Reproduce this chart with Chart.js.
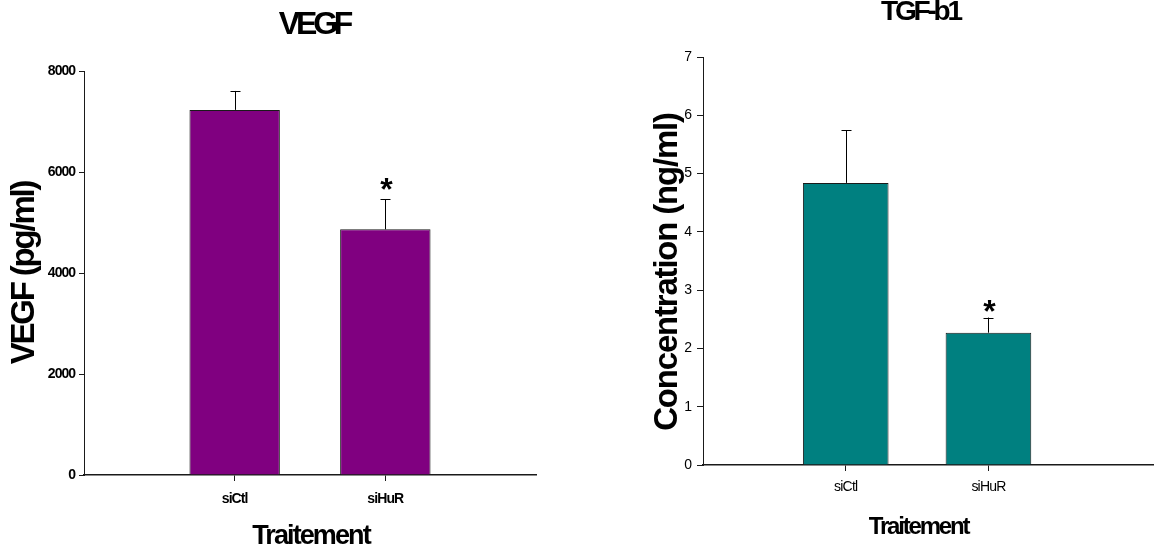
<!DOCTYPE html>
<html>
<head>
<meta charset="utf-8">
<script src="https://cdn.jsdelivr.net/npm/chart.js@4/dist/chart.umd.min.js"></script>
<style>
  html, body { margin: 0; padding: 0; background: #fff; }
  body { width: 1154px; height: 552px; position: relative; overflow: hidden; }
  canvas { position: absolute; top: 0; }
  #vegf { left: 0; }
  #tgf { left: 600px; }
</style>
</head>
<body>
<canvas id="vegf" width="600" height="552"></canvas>
<canvas id="tgf" width="554" height="552"></canvas>
<script>
// Treatment groups and their positions on the x axis
const categories = ['siCtl', 'siHuR'];
const categoryPositions = [1, 2];

// VEGF secretion (pg/ml): mean and upper error
const vegfMeans = [7230, 4865];
const vegfErrors = [375, 600];
const vegfTicks = [0, 2000, 4000, 6000, 8000];

// TGF-b1 concentration (ng/ml): mean and upper error
const tgfMeans = [4.84, 2.27];
const tgfErrors = [0.90, 0.26];
const tgfTicks = [0, 1, 2, 3, 4, 5, 6, 7];

// Groups marked as significantly different
const significant = [false, true];

const FONT = "'Liberation Sans', Arial, Helvetica, sans-serif";
const INK = '#1a1a1a';

// Upward error bars plus significance stars above them
const errorBarPlugin = {
  id: 'errorBars',
  afterDatasetsDraw(chart, args, opts) {
    const ctx = chart.ctx;
    const meta = chart.getDatasetMeta(0);
    const yScale = chart.scales.y;
    ctx.save();
    ctx.strokeStyle = '#000';
    ctx.lineWidth = 1;
    meta.data.forEach((bar, i) => {
      const x = Math.round(bar.x) + 0.5;
      const top = yScale.getPixelForValue(opts.means[i] + opts.errors[i]);
      ctx.beginPath();
      ctx.moveTo(x, bar.y);
      ctx.lineTo(x, top);
      ctx.moveTo(x - opts.cap, Math.round(top) + 0.5);
      ctx.lineTo(x + opts.cap, Math.round(top) + 0.5);
      ctx.stroke();
      if (opts.marks[i]) {
        ctx.font = 'bold ' + opts.starSize + 'px ' + FONT;
        ctx.fillStyle = '#000';
        ctx.textAlign = 'center';
        ctx.textBaseline = 'alphabetic';
        const m = ctx.measureText('*');
        const baseline = top - opts.starGap - m.actualBoundingBoxDescent;
        ctx.fillText('*', x + 1, baseline);
      }
    });
    ctx.restore();
  }
};

// Tight letter spacing (and small nudges) for the chart's text blocks
const textStylePlugin = {
  id: 'textStyle',
  beforeDraw(chart, args, opts) {
    const targets = [
      [chart.titleBlock, 'draw', opts.title],
      [chart.scales.x, 'drawLabels', opts.xTicks],
      [chart.scales.x, 'drawTitle', opts.xTitle],
      [chart.scales.y, 'drawLabels', opts.yTicks],
      [chart.scales.y, 'drawTitle', opts.yTitle]
    ];
    targets.forEach(([obj, fn, st]) => {
      if (!obj || !st || obj['_styled_' + fn]) return;
      const orig = obj[fn];
      obj[fn] = function (...a) {
        const ctx = this.ctx;
        ctx.save();
        ctx.letterSpacing = (st.spacing || 0) + 'px';
        ctx.translate(st.dx || 0, st.dy || 0);
        const r = orig.apply(this, a);
        ctx.restore();
        return r;
      };
      obj['_styled_' + fn] = true;
    });
  }
};

function panel(canvasId, cfg) {
  const points = categoryPositions.map((p, i) => ({ x: p, y: cfg.means[i] }));
  return new Chart(document.getElementById(canvasId), {
    type: 'bar',
    data: {
      datasets: [{
        data: points,
        backgroundColor: cfg.color,
        borderColor: INK,
        borderWidth: 1,
        borderSkipped: 'bottom',
        categoryPercentage: 1,
        barPercentage: 0.6
      }]
    },
    options: {
      responsive: false,
      animation: false,
      events: [],
      layout: { padding: cfg.padding },
      plugins: {
        legend: { display: false },
        tooltip: { enabled: false },
        title: {
          display: true,
          text: cfg.title,
          fullSize: false,
          color: '#000',
          font: { family: FONT, size: cfg.titleSize, weight: 'bold', lineHeight: cfg.titleLine },
          padding: cfg.titlePadding
        },
        errorBars: {
          means: cfg.means, errors: cfg.errors, marks: significant,
          cap: 5, starSize: cfg.starSize, starGap: cfg.starGap
        },
        textStyle: cfg.textStyle
      },
      scales: {
        x: {
          type: 'linear',
          min: 0,
          max: cfg.xMax,
          offset: false,
          afterBuildTicks: (s) => { s.ticks = categoryPositions.map(v => ({ value: v })); },
          afterFit: (s) => { s.height = cfg.xHeight; },
          ticks: {
            autoSkip: false,
            maxRotation: 0,
            padding: cfg.xTickPad,
            color: '#000',
            font: cfg.xTickFont,
            callback: (v) => categories[categoryPositions.indexOf(v)] ?? ''
          },
          grid: { offset: false, drawOnChartArea: false, drawTicks: true, tickLength: 6, color: INK, lineWidth: 1 },
          border: { display: true, color: INK, width: 1.5 },
          title: {
            display: true,
            text: 'Traitement',
            color: '#000',
            font: cfg.xTitleFont,
            padding: { top: 0, bottom: cfg.xTitlePad }
          }
        },
        y: {
          type: 'linear',
          min: cfg.ticks[0],
          max: cfg.ticks[cfg.ticks.length - 1],
          afterBuildTicks: (s) => { s.ticks = cfg.ticks.map(v => ({ value: v })); },
          afterFit: (s) => { s.width = cfg.yWidth; },
          ticks: {
            padding: 5,
            color: '#000',
            font: cfg.yTickFont,
            callback: (v) => String(v)
          },
          grid: { drawOnChartArea: false, drawTicks: true, tickLength: cfg.yTickLen, color: INK, lineWidth: 1 },
          border: { display: true, color: INK, width: 1 },
          title: {
            display: true,
            text: cfg.yTitle,
            color: '#000',
            font: cfg.yTitleFont,
            padding: { top: cfg.yTitlePad, bottom: 0 }
          }
        }
      }
    },
    plugins: [errorBarPlugin, textStylePlugin]
  });
}

panel('vegf', {
  title: 'VEGF',
  titleSize: 32, titleLine: '36px', titlePadding: { top: 7, bottom: 28 },
  means: vegfMeans, errors: vegfErrors, ticks: vegfTicks,
  color: '#800080',
  padding: { top: 0, right: 64, bottom: 0, left: 0 },
  xMax: 3, xHeight: 77, xTickPad: 10,
  xTickFont: { family: FONT, size: 14, weight: 'bold' },
  xTitleFont: { family: FONT, size: 27, weight: 'bold', lineHeight: '28px' }, xTitlePad: 1,
  yWidth: 84, yTickLen: 5,
  yTickFont: { family: FONT, size: 14, weight: 'bold' },
  yTitle: 'VEGF (pg/ml)',
  yTitleFont: { family: FONT, size: 33, weight: 'bold', lineHeight: '34px' }, yTitlePad: 8,
  starSize: 32, starGap: 9,
  textStyle: {
    title: { spacing: -4.2, dx: 4 },
    xTicks: { spacing: -0.9 },
    xTitle: { spacing: -1.9, dx: 1 },
    yTicks: { spacing: -1, dx: 1 },
    yTitle: { spacing: -2.2 }
  }
});

panel('tgf', {
  title: 'TGF-b1',
  titleSize: 28, titleLine: '24px', titlePadding: { top: 0, bottom: 33 },
  means: tgfMeans, errors: tgfErrors, ticks: tgfTicks,
  color: '#008080',
  padding: { top: 0, right: 0, bottom: 0, left: 0 },
  xMax: 3.16, xHeight: 87, xTickPad: 8,
  xTickFont: { family: FONT, size: 14, weight: 'normal' },
  xTitleFont: { family: FONT, size: 24, weight: 'bold', lineHeight: '26px' }, xTitlePad: 12,
  yWidth: 103, yTickLen: 6,
  yTickFont: { family: FONT, size: 14, weight: 'normal' },
  yTitle: 'Concentration (ng/ml)',
  yTitleFont: { family: FONT, size: 33, weight: 'bold', lineHeight: '36px' }, yTitlePad: 54,
  starSize: 32, starGap: 6,
  textStyle: {
    title: { spacing: -3.2, dx: -8 },
    xTicks: { spacing: -0.8 },
    xTitle: { spacing: -2.2, dx: -10 },
    yTitle: { spacing: -1.2, dx: -4, dy: 11 }
  }
});
</script>
</body>
</html>
